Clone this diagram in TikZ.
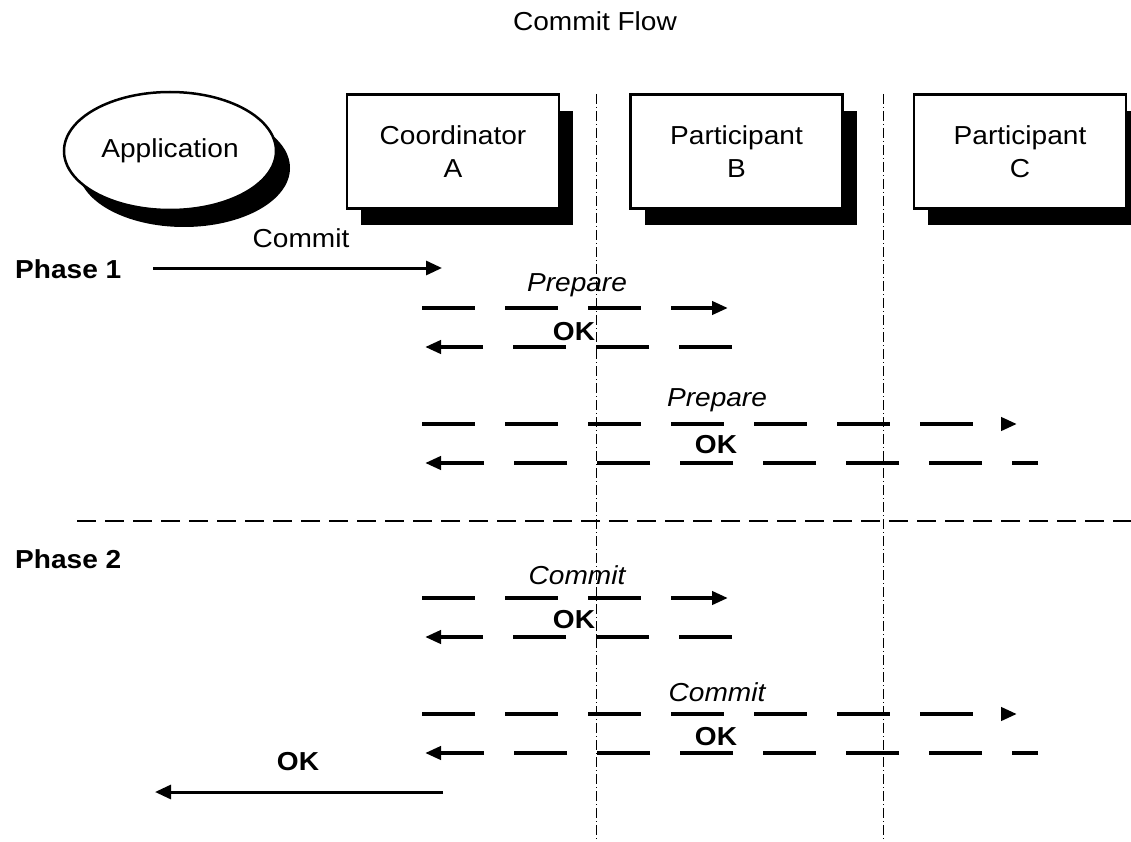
\documentclass[tikz,border=0pt]{standalone}
\usepackage{fontspec}
\setmainfont{Liberation Sans}[FakeStretch=1.08]
\usetikzlibrary{arrows.meta,positioning,shapes.geometric,shadows}

\begin{document}
\fontsize{26}{33}\selectfont
\begin{tikzpicture}[x=1pt,y=-1pt]

\tikzset{actor/.style={fill=white,draw=black,line width=2.5pt,inner sep=0pt,minimum width=212pt,minimum height=114pt,shape=rectangle,align=center,
  drop shadow={shadow xshift=14pt,shadow yshift=-17pt,fill=black,opacity=1}},
app/.style={actor,shape=ellipse,minimum width=212pt,minimum height=118pt},
lifeline/.style={line width=1pt,dash pattern=on 10pt off 3pt on 1pt off 3pt},
divider/.style={line width=2.5pt,dash pattern=on 19pt off 9pt},
call/.style={-{Triangle[length=16pt,width=14pt]},line width=3pt},
msg/.style={-{Triangle[length=16pt,width=13pt]},line width=4.5pt,dash pattern=on 53pt off 30pt},
phase/.style={font=\bfseries,anchor=west,inner sep=0pt},
msgtext/.style={font=\itshape,inner sep=0pt},
oktext/.style={font=\bfseries,inner sep=0pt}}

\useasboundingbox (0,0) rectangle (1131,842);

% Title
\node (title) at (595,21) {Commit Flow};

% Lifelines between the parties
\coordinate (l1top) at (596,94);
\coordinate (l1bot) at (596,842);
\coordinate (l2top) at (883,94);
\coordinate (l2bot) at (883,842);
\draw [lifeline] (l1top) -- (l1bot);
\draw [lifeline] (l2top) -- (l2bot);

% Parties
\node (app) [app] at (170,151) {Application};
\node (coordA) [actor] at (453,151.5) {Coordinator\\A};
\node (partB) [actor,right=69pt of coordA] {Participant\\B};
\node (partC) [actor,right=69pt of partB] {Participant\\C};

% Phase separator
\coordinate (sepl) at (77,521);
\coordinate (sepr) at (1131,521);
\draw [divider] (sepl) -- (sepr);

% Phase labels
\node (ph1) [phase] at (15,269) {Phase 1};
\node (ph2) [phase] at (15,559) {Phase 2};

% Application to coordinator
\coordinate (c0s) at (153,268);
\coordinate (c0e) at (442,268);
\draw [call] (c0s) -- (c0e);
\node (c0l) at (301,238) {Commit};

% Phase 1 messages
\coordinate (p1s) at (422,308);
\coordinate (p1e) at (728,308);
\draw [msg] (p1s) -- (p1e);
\node (p1l) [msgtext] at (577,285) {Prepare};
\coordinate (k1s) at (732,347);
\coordinate (k1e) at (425,347);
\draw [msg] (k1s) -- (k1e);
\node (k1l) [oktext] at (574,332) {OK};

\coordinate (p2s) at (422,424);
\coordinate (p2e) at (1017,424);
\draw [msg] (p2s) -- (p2e);
\node (p2l) [msgtext] at (717,400) {Prepare};
\coordinate (k2s) at (1038,463);
\coordinate (k2e) at (425,463);
\draw [msg,dash phase=27pt] (k2s) -- (k2e);
\node (k2l) [oktext] at (716,445) {OK};

% Phase 2 messages
\coordinate (m1s) at (422,598);
\coordinate (m1e) at (728,598);
\draw [msg] (m1s) -- (m1e);
\node (m1l) [msgtext] at (577,575) {Commit};
\coordinate (n1s) at (732,637);
\coordinate (n1e) at (425,637);
\draw [msg] (n1s) -- (n1e);
\node (n1l) [oktext] at (574,620) {OK};

\coordinate (m2s) at (422,714);
\coordinate (m2e) at (1017,714);
\draw [msg] (m2s) -- (m2e);
\node (m2l) [msgtext] at (717,692) {Commit};
\coordinate (n2s) at (1038,753);
\coordinate (n2e) at (425,753);
\draw [msg,dash phase=27pt] (n2s) -- (n2e);
\node (n2l) [oktext] at (716,737) {OK};

% Coordinator back to application
\coordinate (r0s) at (443,792);
\coordinate (r0e) at (155,792);
\draw [call] (r0s) -- (r0e);
\node (r0l) [oktext] at (298,762) {OK};

\end{tikzpicture}
\end{document}
